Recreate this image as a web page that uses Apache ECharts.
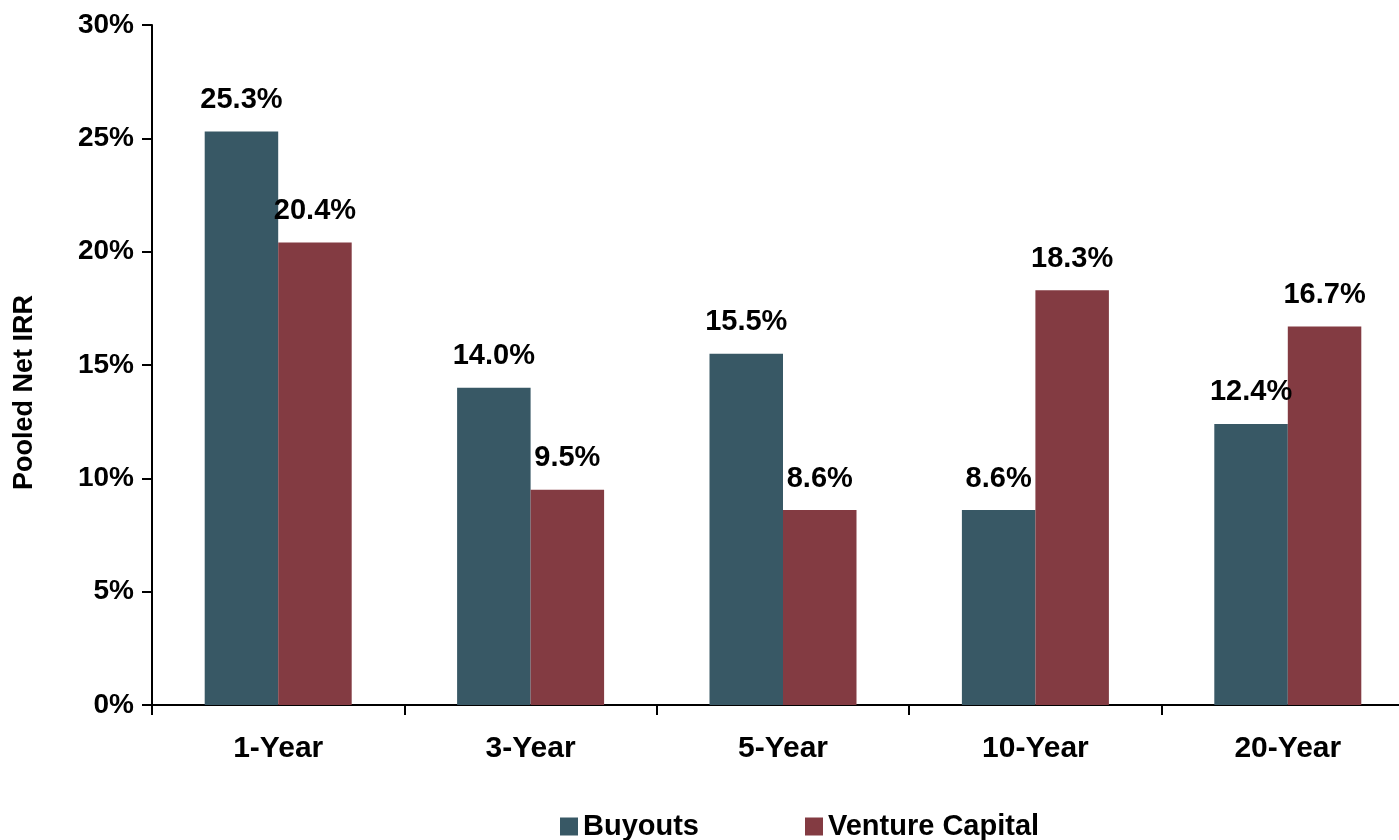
<!DOCTYPE html>
<html>
<head>
<meta charset="utf-8">
<title>Pooled Net IRR</title>
<script src="https://cdn.jsdelivr.net/npm/echarts@6/dist/echarts.min.js"></script>
<style>
  html, body { margin: 0; padding: 0; background: #ffffff; }
  #chart { width: 1399px; height: 840px; }
</style>
</head>
<body>
<div id="chart"></div>
<script>
// Horizons and pooled net IRR (%) by strategy
const categories = ['1-Year', '3-Year', '5-Year', '10-Year', '20-Year'];
const buyouts = [25.3, 14.0, 15.5, 8.6, 12.4];
const ventureCapital = [20.4, 9.5, 8.6, 18.3, 16.7];
const seriesNames = ['Buyouts', 'Venture Capital'];
const yTicks = { min: 0, max: 30, interval: 5 };

const FONT = '"Liberation Sans", Arial, Helvetica, sans-serif';
const COLORS = ['#385865', '#833b42'];

const chart = echarts.init(document.getElementById('chart'), null, { renderer: 'canvas' });

const labelStyle = {
  show: true,
  position: 'top',
  distance: 17,
  fontFamily: FONT,
  fontWeight: 'bold',
  fontSize: 29,
  color: '#000000',
  formatter: p => p.value.toFixed(1) + '%'
};

chart.setOption({
  animation: false,
  backgroundColor: '#ffffff',
  textStyle: { fontFamily: FONT },
  // plot runs slightly past the right edge of the canvas
  grid: {
    left: 152, top: 25, width: 1262, height: 680,
    containLabel: false,
    outerBoundsMode: 'none'
  },
  legend: {
    data: seriesNames,
    left: 560,
    top: 812,
    padding: 0,
    itemWidth: 18,
    itemHeight: 18,
    itemGap: 106,
    icon: 'rect',
    textStyle: { fontFamily: FONT, fontWeight: 'bold', fontSize: 29, color: '#000000' }
  },
  xAxis: {
    type: 'category',
    data: categories,
    axisLine: { lineStyle: { color: '#000000', width: 2 } },
    axisTick: { show: true, length: 10, lineStyle: { color: '#000000', width: 2 } },
    axisLabel: { margin: 29, fontFamily: FONT, fontWeight: 'bold', fontSize: 30, color: '#000000' },
    splitLine: { show: false }
  },
  yAxis: {
    type: 'value',
    min: yTicks.min,
    max: yTicks.max,
    interval: yTicks.interval,
    name: 'Pooled Net IRR',
    nameLocation: 'middle',
    nameGap: 114,
    nameRotate: 90,
    nameTextStyle: { fontFamily: FONT, fontWeight: 'bold', fontSize: 27, color: '#000000', padding: [0, 55, 0, 0] },
    axisLine: { show: true, lineStyle: { color: '#000000', width: 2 } },
    axisTick: { show: true, length: 10, lineStyle: { color: '#000000', width: 2 } },
    axisLabel: { margin: 18, fontFamily: FONT, fontWeight: 'bold', fontSize: 28, color: '#000000', formatter: '{value}%' },
    splitLine: { show: false }
  },
  series: [
    {
      name: seriesNames[0],
      type: 'bar',
      data: buyouts,
      barWidth: 73.5,
      barGap: '0%',
      itemStyle: { color: COLORS[0] },
      label: labelStyle
    },
    {
      name: seriesNames[1],
      type: 'bar',
      data: ventureCapital,
      barWidth: 73.5,
      barGap: '0%',
      itemStyle: { color: COLORS[1] },
      label: labelStyle
    }
  ]
});
</script>
</body>
</html>
